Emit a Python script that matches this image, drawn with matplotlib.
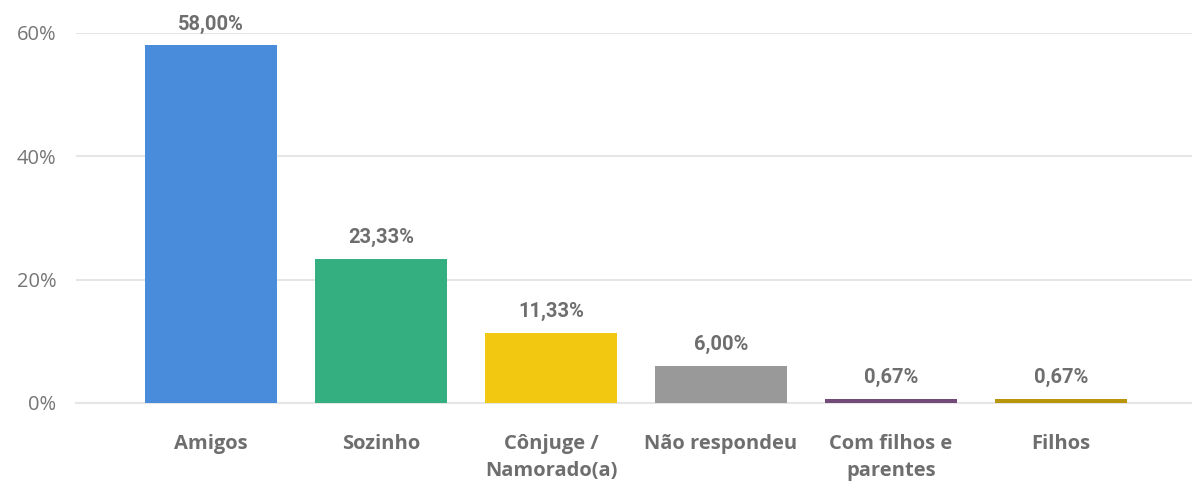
import numpy as np
import matplotlib.pyplot as plt
from matplotlib.ticker import FuncFormatter

categorias = ["Amigos", "Sozinho", "Cônjuge /\nNamorado(a)", "Não respondeu",
              "Com filhos e\nparentes", "Filhos"]
valores = [58.00, 23.33, 11.33, 6.00, 0.67, 0.67]
cores = ["#4A8CDC", "#34B080", "#F2C811", "#999999", "#744A7A", "#B8960C"]
yticks = [0, 20, 40, 60]

fig = plt.figure(figsize=(11.92, 4.83), dpi=100)
ax = fig.add_axes([76/1192, 80/483, 1 - 76/1192, 370/483])

x = np.arange(len(categorias))
bars = ax.bar(x, valores, width=0.775, color=cores, zorder=3)

for b, v in zip(bars, valores):
    ax.text(b.get_x() + b.get_width()/2, v + 1.9, f"{v:.2f}".replace(".", ",") + "%",
            ha="center", va="bottom", fontsize=14.5, fontweight="bold",
            color="#6E6E6E", family="Roboto", clip_on=False)

ax.set_ylim(0, 60)
ax.set_xlim(-0.5 - 50/170, 5.5 + 46/170)
ax.set_yticks(yticks)
ax.yaxis.set_major_formatter(FuncFormatter(lambda v, p: f"{v:.0f}%"))
ax.grid(axis="y", color="#E6E6E6", linewidth=1.5, zorder=0)
for s in ["top", "right", "left"]:
    ax.spines[s].set_visible(False)
ax.spines["bottom"].set_color("#E6E6E6")
ax.spines["bottom"].set_linewidth(1.5)

ax.set_xticks(x)
ax.set_xticklabels(categorias, fontsize=14.5, fontweight="bold", color="#6E6E6E",
                   family="Open Sans", linespacing=1.5)
ax.tick_params(axis="x", length=0, pad=22)
ax.tick_params(axis="y", length=0, pad=14, labelsize=14.5, labelcolor="#767676")
for t in ax.get_yticklabels():
    t.set_family("Open Sans")

fig.savefig("out.png", dpi=100)
